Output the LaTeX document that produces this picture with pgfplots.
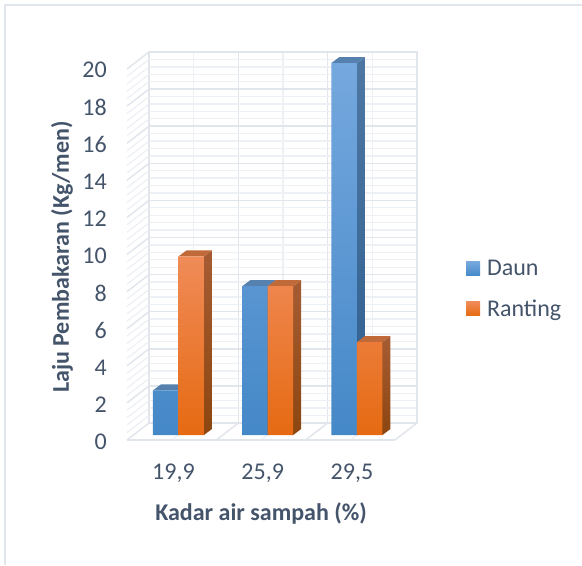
\documentclass[border=0pt]{standalone}
\usepackage{fontspec}
\setmainfont{Carlito}
\usepackage{pgfplots}
\pgfplotsset{compat=1.18}
\definecolor{txt}{HTML}{44546A}
\definecolor{wallM}{HTML}{E1E5EC}
\definecolor{wallm}{HTML}{EDF0F4}
\definecolor{bT}{HTML}{75A8DE}
\definecolor{bM}{HTML}{5E9EDC}
\definecolor{bB}{HTML}{4588C8}
\definecolor{oT}{HTML}{F08B58}
\definecolor{oM}{HTML}{F98025}
\definecolor{oB}{HTML}{E66A12}
\definecolor{bsT}{HTML}{4E77A3}
\definecolor{bsB}{HTML}{2E5F8E}
\definecolor{osT}{HTML}{A65C33}
\definecolor{osB}{HTML}{8C4610}
\definecolor{btop}{HTML}{5681AF}
\definecolor{otop}{HTML}{C06A3A}
\newcommand{\tfont}{\fontsize{18}{22}\selectfont}
\begin{document}
\begin{tikzpicture}
\path[use as bounding box] (0,0) rectangle (436.5pt,423.75pt);
\draw[wallM,line width=1.5pt] (3.75pt,0) -- (3.75pt,420pt) -- (436.5pt,420pt);
% back wall, floor and side wall
\begin{axis}[
  at={(111.75pt,106.5pt)},anchor=south west,
  scale only axis,width=201pt,height=278.25pt,
  xmin=0,xmax=3,ymin=0,ymax=20,clip=false,
  xtick={0,1,2,3},minor xtick={0.5,1.5,2.5},
  ytick={0,2,...,20},minor y tick num=4,
  xticklabels={},yticklabels={},
  grid=both,
  major grid style={wallM,line width=1.1pt},
  minor grid style={wallm,line width=1pt},
  axis line style={wallM,line width=1.1pt},
  tick style={draw=none},
]
\foreach \v in {0,2,...,20}{
  \pgfmathsetmacro\w{\v-0.9164}
  \edef\t{\noexpand\addplot[forget plot,wallM,line width=1.1pt] coordinates {(0,\v) (-0.2463,\w)};}\t
}
\foreach \v in {0,2,...,18}{
 \foreach \m in {0.4,0.8,1.2,1.6}{
  \pgfmathsetmacro\u{\v+\m}
  \pgfmathsetmacro\w{\u-0.9164}
  \edef\t{\noexpand\addplot[forget plot,wallm,line width=1pt] coordinates {(0,\u) (-0.2463,\w)};}\t
 }
}
\addplot[forget plot,wallm,line width=1pt] coordinates {(0.5,0) (0.2537,-0.9164)};
\addplot[forget plot,wallm,line width=1pt] coordinates {(1.5,0) (1.2537,-0.9164)};
\addplot[forget plot,wallm,line width=1pt] coordinates {(2.5,0) (2.2537,-0.9164)};
\addplot[forget plot,wallM,line width=1.1pt] coordinates {(1,0) (0.7537,-0.9164)};
\addplot[forget plot,wallM,line width=1.1pt] coordinates {(2,0) (1.7537,-0.9164)};
\addplot[forget plot,wallM,line width=1.1pt] coordinates {(3,0) (2.7537,-0.9164)};
\addplot[forget plot,wallM,line width=1.1pt] coordinates {(-0.2463,-0.9164) (2.7537,-0.9164)};
\end{axis}
% bars
\begin{axis}[
  at={(100.4pt,97.5pt)},anchor=south west,
  scale only axis,width=200.8pt,height=279pt,
  xmin=-0.5,xmax=2.5,ymin=0,ymax=20,clip=false,
  xtick={0,1,2},xticklabels={{19,9},{25,9},{29,5}},
  ytick={0,2,...,20},
  axis line style={draw=none},
  tick style={draw=none},major tick length=0pt,
  /pgf/number format/assume math mode=true,
  ticklabel style={font=\tfont,text=txt},
  yticklabel style={anchor=east,inner sep=0pt,xshift=-20.2pt,yshift=-5.2pt},
  xticklabel style={anchor=center,inner sep=0pt,xshift=-3.75pt,yshift=-28.5pt},
  xlabel={Kadar air sampah (\%)},
  ylabel={Laju Pembakaran (Kg/men)},
  label style={font=\tfont\bfseries,text=txt},
  xlabel style={at={(axis description cs:0.475,-0.21)},anchor=center},
  ylabel style={at={(axis description cs:-0.2686,0.478)},anchor=center},
  legend style={at={(axis description cs:1.2406,0.47)},anchor=north west,draw=none,fill=none,
    inner sep=0pt,outer sep=0pt,font=\tfont,text=txt,row sep=16.5pt,
    nodes={inner sep=0pt}},
  legend cell align=left,
  legend image code/.code={\path[#1] (0pt,-5.25pt) rectangle (10.5pt,5.25pt);\path (0pt,0pt) -- (15.75pt,0pt);},
]
% Daun: sides and tops
\addplot[forget plot,draw=none,top color=bsT,bottom color=bsB] coordinates {(0,0) (0.0896,0.3226) (0.0896,2.7226) (0,2.4)} -- cycle;
\addplot[forget plot,draw=none,fill=btop] coordinates {(-0.2857,2.4) (0,2.4) (0.0896,2.7226) (-0.1961,2.7226)} -- cycle;
\addplot[forget plot,draw=none,top color=bsT,bottom color=bsB] coordinates {(1,0) (1.0896,0.3226) (1.0896,8.3226) (1,8)} -- cycle;
\addplot[forget plot,draw=none,fill=btop] coordinates {(0.7143,8) (1,8) (1.0896,8.3226) (0.8039,8.3226)} -- cycle;
\addplot[forget plot,draw=none,top color=bsT,bottom color=bsB] coordinates {(2,0) (2.0896,0.3226) (2.0896,20.3226) (2,20)} -- cycle;
\addplot[forget plot,draw=none,fill=btop] coordinates {(1.7143,20) (2,20) (2.0896,20.3226) (1.8039,20.3226)} -- cycle;
% Daun: fronts
\addplot[ybar,bar width=0.2857,bar shift=-0.14285,draw=none,top color=bT,middle color=bM,bottom color=bB] coordinates {(0,2.4) (1,8) (2,20)};
\addlegendentry{Daun}
% Ranting: sides and tops
\addplot[forget plot,draw=none,top color=osT,bottom color=osB] coordinates {(0.2857,0) (0.3753,0.3226) (0.3753,9.9226) (0.2857,9.6)} -- cycle;
\addplot[forget plot,draw=none,fill=otop] coordinates {(0,9.6) (0.2857,9.6) (0.3753,9.9226) (0.0896,9.9226)} -- cycle;
\addplot[forget plot,draw=none,top color=osT,bottom color=osB] coordinates {(1.2857,0) (1.3753,0.3226) (1.3753,8.3226) (1.2857,8)} -- cycle;
\addplot[forget plot,draw=none,fill=otop] coordinates {(1,8) (1.2857,8) (1.3753,8.3226) (1.0896,8.3226)} -- cycle;
\addplot[forget plot,draw=none,top color=osT,bottom color=osB] coordinates {(2.2857,0) (2.3753,0.3226) (2.3753,5.3226) (2.2857,5)} -- cycle;
\addplot[forget plot,draw=none,fill=otop] coordinates {(2,5) (2.2857,5) (2.3753,5.3226) (2.0896,5.3226)} -- cycle;
% Ranting: fronts
\addplot[ybar,bar width=0.2857,bar shift=0.14285,draw=none,top color=oT,middle color=oM,bottom color=oB] coordinates {(0,9.6) (1,8) (2,5)};
\addlegendentry{Ranting}
\end{axis}
\end{tikzpicture}
\end{document}
